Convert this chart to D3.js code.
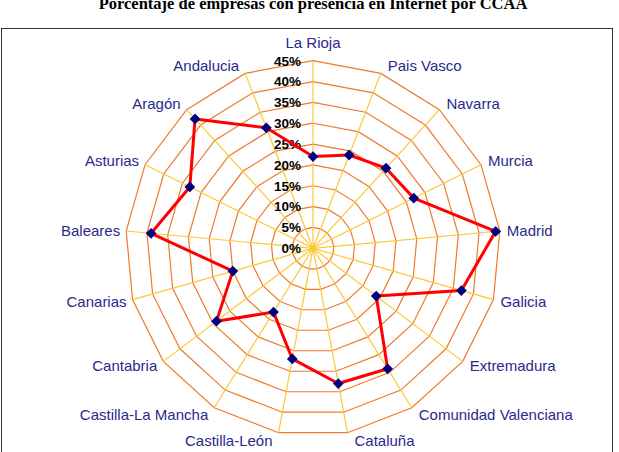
<!DOCTYPE html>
<html>
<head>
<meta charset="utf-8">
<script src="https://cdn.jsdelivr.net/npm/d3@7/dist/d3.min.js"></script>
<style>
  body { margin: 0; background: #fff; }
  svg { display: block; }
</style>
</head>
<body>
<div id="chart"></div>
<script>
// Data
const regions = ["La Rioja", "Pais Vasco", "Navarra", "Murcia", "Madrid", "Galicia",
  "Extremadura", "Comunidad Valenciana", "Cataluña", "Castilla-León", "Castilla-La Mancha",
  "Cantabria", "Canarias", "Baleares", "Asturias", "Aragón", "Andalucia"];
const percentages = [22, 24, 26, 27, 44, 37, 19, 34, 33, 27, 18, 29, 20, 39, 33, 42, 31];
const tickValues = [0, 5, 10, 15, 20, 25, 30, 35, 40, 45];

const w = 619, h = 452;
const cx = 313, cy = 248.3;
const R = 187.6;

const svg = d3.select("#chart").append("svg")
  .attr("width", w)
  .attr("height", h);

// Title (partly cut at top, as in the original)
svg.append("text")
  .attr("x", 313)
  .attr("y", 9)
  .attr("text-anchor", "middle")
  .style("font-family", "'Liberation Serif', 'Times New Roman', serif")
  .style("font-weight", "bold")
  .style("font-size", "16.5px")
  .text("Porcentaje de empresas con presencia en Internet por CCAA");

// Frame
svg.append("rect")
  .attr("x", 1.5).attr("y", 28.5)
  .attr("width", 611).attr("height", 440)
  .attr("fill", "none")
  .attr("stroke", "#333")
  .attr("stroke-width", 1);

// Scales
const rScale = d3.scaleLinear().domain([0, 45]).range([0, R]);
const angle = d3.scaleLinear().domain([0, regions.length]).range([0, 2 * Math.PI]);

const pt = (i, v) => [cx + rScale(v) * Math.sin(angle(i)), cy - rScale(v) * Math.cos(angle(i))];

const g = svg.append("g");

// Rings
tickValues.filter(t => t > 0).forEach(t => {
  g.append("path")
    .attr("d", d3.line()(regions.map((_, i) => pt(i, t))) + "Z")
    .attr("fill", "none")
    .attr("stroke", "#EE7A2C")
    .attr("stroke-width", 1.2);
});

// Spokes
g.selectAll("line.spoke")
  .data(regions)
  .enter()
  .append("line")
  .attr("class", "spoke")
  .attr("x1", cx).attr("y1", cy)
  .attr("x2", (d, i) => pt(i, 45)[0])
  .attr("y2", (d, i) => pt(i, 45)[1])
  .attr("stroke", "#FAC832")
  .attr("stroke-width", 1.2);

// Tick labels
g.selectAll("text.tick")
  .data(tickValues)
  .enter()
  .append("text")
  .attr("class", "tick")
  .attr("x", cx - 12)
  .attr("y", d => cy - rScale(d))
  .attr("dy", "0.36em")
  .attr("text-anchor", "end")
  .style("font-family", "'Liberation Sans', Arial, sans-serif")
  .style("font-weight", "bold")
  .style("font-size", "13.5px")
  .text(d => d + "%");

// Category labels
g.selectAll("text.cat")
  .data(regions)
  .enter()
  .append("text")
  .attr("class", "cat")
  .each(function (d, i) {
    const s = Math.sin(angle(i)), c = Math.cos(angle(i));
    const [vx, vy] = pt(i, 45);
    const t = d3.select(this);
    if (Math.abs(s) < 0.05) {
      t.attr("x", vx).attr("y", vy - 18).attr("text-anchor", "middle");
    } else {
      t.attr("x", vx + (s > 0 ? 7 : -6))
        .attr("y", vy - c * 8)
        .attr("text-anchor", s > 0 ? "start" : "end");
    }
  })
  .attr("dy", "0.35em")
  .style("font-family", "'Liberation Sans', Arial, sans-serif")
  .style("font-size", "15px")
  .attr("fill", "#29298C")
  .text(d => d);

// Data line
svg.append("path")
  .attr("d", d3.line()(percentages.map((v, i) => pt(i, v))) + "Z")
  .attr("fill", "none")
  .attr("stroke", "#FF0000")
  .attr("stroke-width", 3)
  .attr("stroke-linejoin", "round");

// Markers
svg.selectAll("path.marker")
  .data(percentages)
  .enter()
  .append("path")
  .attr("class", "marker")
  .attr("d", d3.symbol(d3.symbolSquare, 58))
  .attr("transform", (d, i) => `translate(${pt(i, d)[0]},${pt(i, d)[1]}) rotate(45)`)
  .attr("fill", "#000080");
</script>
</body>
</html>
